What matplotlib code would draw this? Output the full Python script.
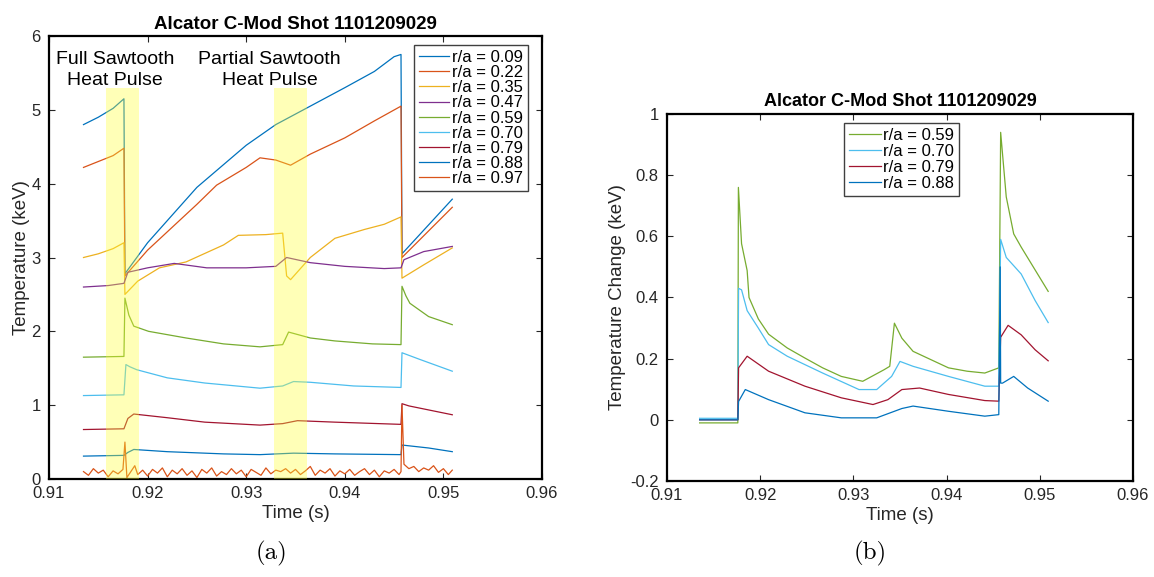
import matplotlib
matplotlib.use("Agg")
import matplotlib.pyplot as plt

plt.rcParams["font.family"] = ["Liberation Sans", "DejaVu Sans"]

# MATLAB default line colours
c_blue = "#0072BD"
c_orange = "#D95319"
c_yellow = "#EDB120"
c_purple = "#7E2F8E"
c_green = "#77AC30"
c_cyan = "#4DBEEE"
c_red = "#A2142F"

# ---- panel (a): electron temperature traces ----
labels_a = ["r/a = 0.09", "r/a = 0.22", "r/a = 0.35", "r/a = 0.47", "r/a = 0.59",
            "r/a = 0.70", "r/a = 0.79", "r/a = 0.88", "r/a = 0.97"]
colors_a = [c_blue, c_orange, c_yellow, c_purple, c_green, c_cyan, c_red, c_blue, c_orange]

t_009 = [0.9135, 0.9150, 0.9165, 0.9176, 0.9177, 0.9200, 0.9250, 0.9300, 0.9330,
         0.9365, 0.9400, 0.9430, 0.9450, 0.9457, 0.9458, 0.9509]
T_009 = [4.80, 4.90, 5.02, 5.15, 2.78, 3.20, 3.95, 4.52, 4.80,
         5.05, 5.30, 5.52, 5.72, 5.75, 3.05, 3.79]

t_022 = [0.9135, 0.9150, 0.9165, 0.9176, 0.9177, 0.9200, 0.9250, 0.9270, 0.9275,
         0.9300, 0.9314, 0.9330, 0.9345, 0.9365, 0.9400, 0.9430, 0.9457, 0.9458, 0.9509]
T_022 = [4.22, 4.30, 4.38, 4.48, 2.75, 3.10, 3.72, 3.98, 4.02,
         4.22, 4.35, 4.32, 4.25, 4.40, 4.62, 4.85, 5.05, 3.00, 3.68]

t_035 = [0.9135, 0.9150, 0.9165, 0.9176, 0.9177, 0.9190, 0.9212, 0.9239, 0.9277,
         0.9292, 0.9320, 0.9337, 0.9341, 0.9345, 0.9365, 0.9390, 0.9420, 0.9440,
         0.9457, 0.9458, 0.9480, 0.9509]
T_035 = [3.00, 3.05, 3.12, 3.20, 2.50, 2.68, 2.86, 2.94, 3.17,
         3.30, 3.31, 3.33, 2.75, 2.70, 3.00, 3.26, 3.38, 3.45,
         3.55, 2.72, 2.90, 3.13]

t_047 = [0.9135, 0.9160, 0.9176, 0.9180, 0.9200, 0.9227, 0.9260, 0.9300, 0.9330,
         0.9341, 0.9365, 0.9400, 0.9440, 0.9457, 0.9460, 0.9480, 0.9509]
T_047 = [2.60, 2.62, 2.65, 2.80, 2.86, 2.92, 2.86, 2.86, 2.88,
         3.00, 2.93, 2.88, 2.85, 2.86, 2.97, 3.08, 3.15]

t_059 = [0.9135, 0.9176, 0.9177, 0.9181, 0.9186, 0.9201, 0.9239, 0.9277, 0.9314,
         0.9337, 0.9343, 0.9365, 0.9390, 0.9428, 0.9457, 0.9458, 0.9462, 0.9466,
         0.9485, 0.9509]
T_059 = [1.65, 1.66, 2.45, 2.22, 2.07, 2.00, 1.91, 1.83, 1.79,
         1.82, 1.99, 1.91, 1.87, 1.83, 1.82, 2.61, 2.48, 2.38,
         2.20, 2.09]

t_070 = [0.9135, 0.9176, 0.9178, 0.9182, 0.9189, 0.9220, 0.9258, 0.9314, 0.9337,
         0.9348, 0.9365, 0.9409, 0.9457, 0.9458, 0.9476, 0.9509]
T_070 = [1.13, 1.14, 1.55, 1.52, 1.48, 1.37, 1.30, 1.23, 1.26,
         1.32, 1.31, 1.26, 1.24, 1.71, 1.62, 1.46]

t_079 = [0.9135, 0.9176, 0.9180, 0.9186, 0.9220, 0.9258, 0.9314, 0.9337, 0.9352,
         0.9390, 0.9457, 0.9458, 0.9465, 0.9509]
T_079 = [0.67, 0.68, 0.82, 0.88, 0.83, 0.77, 0.73, 0.75, 0.79,
         0.77, 0.74, 1.02, 0.99, 0.87]

t_088 = [0.9135, 0.9176, 0.9180, 0.9186, 0.9220, 0.9277, 0.9314, 0.9348, 0.9390,
         0.9457, 0.9458, 0.9485, 0.9509]
T_088 = [0.31, 0.32, 0.36, 0.40, 0.37, 0.34, 0.33, 0.35, 0.34,
         0.33, 0.46, 0.42, 0.37]

t_097 = [0.9135, 0.9140, 0.9145, 0.9150, 0.9155, 0.9160, 0.9165, 0.9170, 0.9175,
         0.9177, 0.9179, 0.9183, 0.9187, 0.9190, 0.9195, 0.9200, 0.9205, 0.9210,
         0.9215, 0.9220, 0.9225, 0.9230, 0.9235, 0.9240, 0.9245, 0.9250, 0.9255,
         0.9260, 0.9265, 0.9270, 0.9275, 0.9280, 0.9285, 0.9290, 0.9295, 0.9300,
         0.9305, 0.9310, 0.9315, 0.9320, 0.9325, 0.9330, 0.9335, 0.9340, 0.9345,
         0.9350, 0.9355, 0.9360, 0.9365, 0.9370, 0.9375, 0.9380, 0.9385, 0.9390,
         0.9395, 0.9400, 0.9405, 0.9410, 0.9415, 0.9420, 0.9425, 0.9430, 0.9435,
         0.9440, 0.9445, 0.9450, 0.9455, 0.9457, 0.9458, 0.9460, 0.9465, 0.9470,
         0.9475, 0.9480, 0.9485, 0.9490, 0.9495, 0.9500, 0.9505, 0.9509]
T_097 = [0.10, 0.05, 0.14, 0.08, 0.12, 0.03, 0.11, 0.07, 0.13,
         0.50, 0.02, 0.10, 0.18, 0.06, 0.12, 0.04, 0.13, 0.08,
         0.15, 0.03, 0.12, 0.07, 0.14, 0.05, 0.11, 0.02, 0.13,
         0.08, 0.15, 0.04, 0.10, 0.06, 0.14, 0.07, 0.12, 0.03,
         0.13, 0.09, 0.05, 0.15, 0.07, 0.12, 0.10, 0.14, 0.08,
         0.13, 0.06, 0.11, 0.17, 0.05, 0.12, 0.08, 0.14, 0.04,
         0.11, 0.07, 0.13, 0.05, 0.10, 0.14, 0.06, 0.12, 0.03,
         0.11, 0.08, 0.13, 0.06, 0.10, 1.00, 0.20, 0.14, 0.17,
         0.10, 0.15, 0.12, 0.18, 0.09, 0.14, 0.06, 0.12]

t_a = [t_009, t_022, t_035, t_047, t_059, t_070, t_079, t_088, t_097]
T_a = [T_009, T_022, T_035, T_047, T_059, T_070, T_079, T_088, T_097]

# heat pulse windows (s)
pulse_windows = [(0.91574, 0.91914), (0.93280, 0.93621)]

# ---- panel (b): temperature change ----
labels_b = ["r/a = 0.59", "r/a = 0.70", "r/a = 0.79", "r/a = 0.88"]
colors_b = [c_green, c_cyan, c_red, c_blue]

tb_059 = [0.9135, 0.9176, 0.91766, 0.9180, 0.9186, 0.9188, 0.9198, 0.9209, 0.9229,
          0.9248, 0.9267, 0.9287, 0.9310, 0.9333, 0.9339, 0.9344, 0.9352, 0.9364,
          0.9383, 0.9402, 0.9422, 0.9441, 0.9456, 0.9458, 0.9464, 0.9472, 0.9480,
          0.9491, 0.9509]
dT_059 = [-0.01, -0.01, 0.76, 0.576, 0.488, 0.40, 0.33, 0.28, 0.235,
          0.202, 0.17, 0.142, 0.126, 0.164, 0.175, 0.316, 0.267, 0.224,
          0.197, 0.17, 0.159, 0.153, 0.17, 0.94, 0.729, 0.608, 0.565,
          0.51, 0.42]

tb_070 = [0.9135, 0.9176, 0.91768, 0.9180, 0.9186, 0.9198, 0.9209, 0.9229, 0.9267,
          0.9306, 0.9325, 0.9341, 0.9350, 0.9364, 0.9402, 0.9441, 0.9456, 0.9458,
          0.9464, 0.9480, 0.9495, 0.9509]
dT_070 = [0.005, 0.005, 0.43, 0.425, 0.357, 0.30, 0.246, 0.208, 0.153,
          0.099, 0.099, 0.142, 0.191, 0.175, 0.142, 0.11, 0.11, 0.59,
          0.531, 0.477, 0.39, 0.318]

tb_079 = [0.9135, 0.9176, 0.91768, 0.9186, 0.9209, 0.9248, 0.9287, 0.9321, 0.9337,
          0.9352, 0.9371, 0.9402, 0.9441, 0.9456, 0.9458, 0.9466, 0.9480, 0.9495,
          0.9509]
dT_079 = [0.0, 0.0, 0.17, 0.208, 0.159, 0.11, 0.072, 0.05, 0.066,
          0.099, 0.104, 0.083, 0.063, 0.061, 0.27, 0.309, 0.278, 0.229,
          0.193]

tb_088 = [0.9135, 0.9176, 0.91768, 0.9184, 0.9209, 0.9248, 0.9287, 0.9325, 0.9352,
          0.9364, 0.9402, 0.9441, 0.9456, 0.94575, 0.9458, 0.9460, 0.9472, 0.9487,
          0.9509]
dT_088 = [0.0, 0.0, 0.06, 0.099, 0.066, 0.023, 0.0065, 0.0065, 0.037,
          0.045, 0.028, 0.012, 0.017, 0.50, 0.12, 0.12, 0.142, 0.104,
          0.061]

t_b = [tb_059, tb_070, tb_079, tb_088]
dT_b = [dT_059, dT_070, dT_079, dT_088]

title = "Alcator C-Mod Shot 1101209029"
xticks = [0.91, 0.92, 0.93, 0.94, 0.95, 0.96]
xticklabels = ["0.91", "0.92", "0.93", "0.94", "0.95", "0.96"]

W, H = 1154, 577
fig = plt.figure(figsize=(W / 100, H / 100), dpi=100)
ax1 = fig.add_axes([49 / W, 1 - 479 / H, (542 - 49) / W, (479 - 36) / H])
ax2 = fig.add_axes([667 / W, 1 - 481 / H, (1133 - 667) / W, (481 - 114) / H])


def style_axes(ax):
    for s in ax.spines.values():
        s.set_linewidth(1.6)
        s.set_color("black")
    ax.tick_params(direction="in", length=4, width=0.8, labelsize=12, pad=5,
                   top=True, right=True, colors="#262626", labelcolor="#262626")
    ax.tick_params(axis="y", pad=6)
    ax.xaxis.label.set_color("#262626")
    ax.yaxis.label.set_color("#262626")


def style_legend(leg):
    leg.get_frame().set_edgecolor("#404040")
    leg.get_frame().set_linewidth(1.0)


# panel (a)
for t, T, lab, col in zip(t_a, T_a, labels_a, colors_a):
    ax1.plot(t, T, color=col, lw=0.9, label=lab)
for x0, x1 in pulse_windows:
    ax1.axvspan(x0, x1, ymin=0, ymax=5.30 / 6, color="#ffff33", alpha=0.35, lw=0, zorder=3)
ax1.text(0.91669, 5.54, "Full Sawtooth\nHeat Pulse", ha="center", va="center",
         fontsize=14, linespacing=1.3)
ax1.text(0.93236, 5.54, "Partial Sawtooth\nHeat Pulse", ha="center", va="center",
         fontsize=14, linespacing=1.3)
ax1.set_xlim(0.91, 0.96)
ax1.set_ylim(0, 6)
ax1.set_xticks(xticks)
ax1.set_xticklabels(xticklabels)
ax1.set_xlabel("Time (s)", fontsize=13.5, labelpad=3)
ax1.set_ylabel("Temperature (keV)", fontsize=13.5, labelpad=1)
ax1.set_title(title, fontsize=13.5, fontweight="bold", pad=5)
leg1 = ax1.legend(loc="upper right", bbox_to_anchor=(0.9716, 0.9797), fontsize=12,
                  handlelength=1.8, handletextpad=0.15, labelspacing=0.01,
                  borderpad=0.3, fancybox=False, framealpha=1, borderaxespad=0)
style_legend(leg1)
style_axes(ax1)

# panel (b)
for t, dT, lab, col in zip(t_b, dT_b, labels_b, colors_b):
    ax2.plot(t, dT, color=col, lw=0.9, label=lab)
ax2.set_xlim(0.91, 0.96)
ax2.set_ylim(-0.2, 1)
ax2.set_xticks(xticks)
ax2.set_xticklabels(xticklabels)
ax2.set_yticks([-0.2, 0, 0.2, 0.4, 0.6, 0.8, 1])
ax2.set_yticklabels(["-0.2", "0", "0.2", "0.4", "0.6", "0.8", "1"])
ax2.set_xlabel("Time (s)", fontsize=13.5, labelpad=3)
ax2.set_ylabel("Temperature Change (keV)", fontsize=13.5, labelpad=3)
ax2.set_title(title, fontsize=13, fontweight="bold", pad=6)
leg2 = ax2.legend(loc="upper right", bbox_to_anchor=(0.627, 0.975), fontsize=12,
                  handlelength=1.9, handletextpad=0.15, labelspacing=0.05,
                  borderpad=0.3, fancybox=False, framealpha=1, borderaxespad=0)
style_legend(leg2)
style_axes(ax2)

fig.text(272 / W, 1 - 553 / H, "(a)", ha="center", va="center",
         fontsize=18, family="cmr10")
fig.text(870 / W, 1 - 553 / H, "(b)", ha="center", va="center",
         fontsize=18, family="cmr10")

fig.savefig("out.png", dpi=100)
